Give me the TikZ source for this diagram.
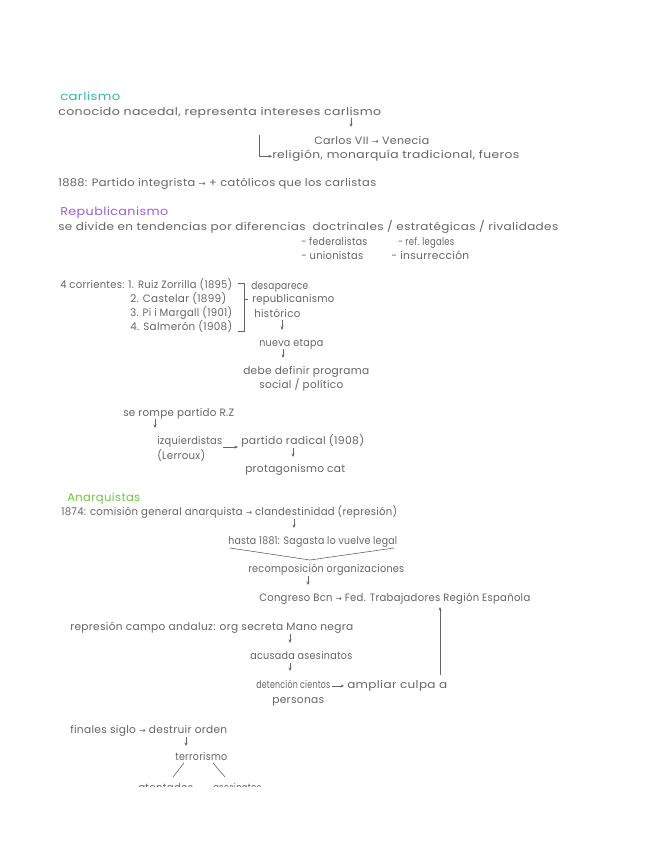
\documentclass[tikz,border=0pt]{standalone}
\usepackage{fontspec}
\usepackage{graphicx}
\setmainfont{Poppins}[LetterSpace=3]
\newfontfamily\symf{DejaVu Sans}
\usetikzlibrary{arrows.meta}
\definecolor{ink}{HTML}{646464}
\definecolor{teal}{HTML}{35B89C}
\definecolor{purp}{HTML}{9E5BD6}
\definecolor{grn}{HTML}{6CC644}
\newlength\pxu \setlength\pxu{0.75pt}
\newcommand{\fw}[2]{\resizebox{#1\pxu}{\height}{#2}}
\newcommand{\ra}{{\symf\fontsize{6}{7}\selectfont→}}
\tikzset{
  tx/.style={anchor=base west, inner sep=0pt, text=ink, font=\fontsize{8}{9}\selectfont},
  hd/.style={anchor=base west, inner sep=0pt, font=\fontsize{8.5}{9}\selectfont},
  arr/.style={draw=ink, line width=0.45pt, -{Stealth[length=2.6pt,width=2.2pt]}},
  ln/.style={draw=ink, line width=0.45pt},
}
\begin{document}
\begin{tikzpicture}[x=0.75pt,y=-0.75pt]
\useasboundingbox (0,0) rectangle (648,848);
% Carlismo
\node[hd,text=teal] (h1) at (60,101) {\fw{60}{carlismo}};
\node[tx] (t1) at (58,116) {\fw{323}{conocido nacedal, representa intereses carlismo}};
\coordinate (a1s) at (351,118); \coordinate (a1e) at (351,127);
\draw[arr] (a1s) -- (a1e);
\node[tx] (t2) at (314,145) {\fw{115}{Carlos VII \ra\ Venecia}};
\node[tx] (t3) at (272,159) {\fw{247}{religión, monarquía tradicional, fueros}};
\coordinate (b1) at (259,135);
\draw[arr] (b1) |- (t3.west);
\node[tx] (t4) at (58,187) {\fw{318}{1888: Partido integrista \ra\ + católicos que los carlistas}};
% Republicanismo
\node[hd,text=purp] (h2) at (60,216) {\fw{108}{Republicanismo}};
\node[tx] (t5) at (58,231) {\fw{500}{se divide en tendencias por diferencias \ doctrinales / estratégicas / rivalidades}};
\node[tx] (t6) at (301,246) {\fw{66}{- federalistas}};
\node[tx] (t7) at (398,246) {\fw{56}{- ref. legales}};
\node[tx] (t8) at (301,260) {\fw{62}{- unionistas}};
\node[tx] (t9) at (391,260) {\fw{78}{- insurrección}};
\node[tx] (t10) at (60,288) {\fw{172}{4 corrientes: 1. Ruiz Zorrilla (1895)}};
\node[tx] (t11) at (130,302) {\fw{96}{2. Castelar (1899)}};
\node[tx] (t12) at (130,316) {\fw{102}{3. Pi i Margall (1901)}};
\node[tx] (t13) at (130,330) {\fw{102}{4. Salmerón (1908)}};
\draw[ln] (238,283) -- (244,283) -- (244,331) -- (238,331);
\draw[ln] (244,299) -- (248,299);
\node[tx] (t14) at (251,289) {\fw{57}{desaparece}};
\node[tx] (t15) at (252,303) {\fw{82}{republicanismo}};
\node[tx] (t16) at (254,317) {\fw{46}{histórico}};
\coordinate (a2s) at (282,320); \coordinate (a2e) at (282,330);
\draw[arr] (a2s) -- (a2e);
\node[tx] (t17) at (259,346) {\fw{64}{nueva etapa}};
\coordinate (a3s) at (283,349); \coordinate (a3e) at (283,358);
\draw[arr] (a3s) -- (a3e);
\node[tx] (t18) at (243,374) {\fw{126}{debe definir programa}};
\node[tx] (t19) at (259,388) {\fw{84}{social / político}};
\node[tx] (t20) at (123,416) {\fw{111}{se rompe partido R.Z}};
\coordinate (a4s) at (155,419); \coordinate (a4e) at (155,428);
\draw[arr] (a4s) -- (a4e);
\node[tx] (t21) at (157,444) {\fw{65}{izquierdistas}};
\node[tx] (t22) at (157,459) {\fw{48}{(Lerroux)}};
\node[tx] (t23) at (241,444) {\fw{123}{partido radical (1908)}};
\coordinate (a5s) at (223,447); \coordinate (a5e) at (238,447);
\draw[arr] (a5s) -- (a5e);
\coordinate (a6s) at (293,448); \coordinate (a6e) at (293,457);
\draw[arr] (a6s) -- (a6e);
\node[tx] (t24) at (245,472) {\fw{100}{protagonismo cat}};
% Anarquistas
\node[hd,text=grn] (h3) at (67,501) {\fw{73}{Anarquistas}};
\node[tx] (t25) at (61,515) {\fw{336}{1874: comisión general anarquista \ra\ clandestinidad (represión)}};
\coordinate (a7s) at (294,519); \coordinate (a7e) at (294,528);
\draw[arr] (a7s) -- (a7e);
\node[tx] (t26) at (228,544) {\fw{169}{hasta 1881: Sagasta lo vuelve legal}};
\coordinate (v1) at (230,548); \coordinate (v2) at (310,560); \coordinate (v3) at (394,548);
\draw[ln] (v1) -- (v2) -- (v3);
\node[tx] (t27) at (248,572) {\fw{156}{recomposición organizaciones}};
\coordinate (a8s) at (308,576); \coordinate (a8e) at (308,585);
\draw[arr] (a8s) -- (a8e);
\node[tx] (t28) at (259,601) {\fw{271}{Congreso Bcn \ra\ Fed. Trabajadores Región Española}};
\coordinate (u1) at (440,675); \coordinate (u2) at (440,607);
\draw[arr] (u1) -- (u2);
\node[tx] (t29) at (70,630) {\fw{283}{represión campo andaluz: org secreta Mano negra}};
\coordinate (a9s) at (290,634); \coordinate (a9e) at (290,643);
\draw[arr] (a9s) -- (a9e);
\node[tx] (t30) at (250,659) {\fw{102}{acusada asesinatos}};
\coordinate (a10s) at (290,663); \coordinate (a10e) at (290,671);
\draw[arr] (a10s) -- (a10e);
\node[tx] (t31) at (256,688) {\fw{74}{detención cientos}};
\node[tx] (t31b) at (347,688) {\fw{100}{ampliar culpa a}};
\coordinate (a12s) at (332,686); \coordinate (a12e) at (344,686);
\draw[arr] (a12s) -- (a12e);
\node[tx] (t32) at (272,703) {\fw{52}{personas}};
\node[tx] (t33) at (70,733) {\fw{157}{finales siglo \ra\ destruir orden}};
\coordinate (a11s) at (186,737); \coordinate (a11e) at (186,746);
\draw[arr] (a11s) -- (a11e);
\node[tx] (t34) at (175,760) {\fw{52}{terrorismo}};
\coordinate (l1) at (173,777); \coordinate (l2) at (225,777);
\draw[ln] (184,763) -- (l1);
\draw[ln] (213,763) -- (l2);
\begin{scope}
\clip (0,780) rectangle (648,786);
\node[tx] (t35) at (138,791) {\fw{55}{atentados}};
\node[tx] (t36) at (213,791) {\fw{48}{asesinatos}};
\end{scope}
\end{tikzpicture}
\end{document}
